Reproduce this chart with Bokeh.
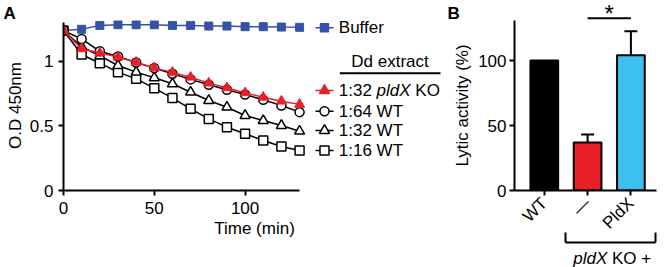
import math
from bokeh.plotting import figure
from bokeh.models import Range1d, FixedTicker, LinearAxis
from bokeh.layouts import row, column
from bokeh.embed import file_html
from bokeh.resources import INLINE
from bokeh.core.properties import value

FONT = "Liberation Sans"

# ---------------- Panel A data ----------------
time_min = [0, 10, 20, 30, 40, 50, 60, 70, 80, 90, 100, 110, 120, 130]
buffer_od = [1.235, 1.245, 1.275, 1.28, 1.28, 1.28, 1.275, 1.275, 1.27, 1.27, 1.265, 1.265, 1.262, 1.26]
ko_1_32 = [1.235, 1.094, 1.062, 1.03, 0.99, 0.947, 0.912, 0.875, 0.829, 0.793, 0.754, 0.72, 0.69, 0.665]
wt_1_64 = [1.235, 1.17, 1.075, 1.035, 0.988, 0.945, 0.902, 0.858, 0.816, 0.778, 0.741, 0.70, 0.656, 0.605]
wt_1_32 = [1.235, 1.11, 1.04, 0.965, 0.914, 0.87, 0.824, 0.759, 0.695, 0.643, 0.579, 0.54, 0.502, 0.458]
wt_1_16 = [1.235, 1.05, 0.983, 0.914, 0.862, 0.79, 0.714, 0.631, 0.553, 0.489, 0.438, 0.386, 0.34, 0.309]
a_xticks = [0, 50, 100]
a_yticks = [0, 0.5, 1]
a_ytick_labels = ["0", "0.5", "1"]
a_xlabel = "Time (min)"
a_ylabel = "O.D 450nm"

# ---------------- Panel B data ----------------
b_categories = ["WT", "\u2014", "PldX"]
b_values = [100, 37, 104]
b_errors = [0, 6, 18.5]
b_colors = ["#000000", "#E8202A", "#3EC0EE"]
b_yticks = [0, 50, 100]
b_ylabel = "Lytic activity (%)"

RED = "#E8202A"
BLUE = "#3552A6"


def style_axis(axis):
    axis.axis_line_width = 2
    axis.major_tick_line_width = 2
    axis.major_tick_out = 5
    axis.major_tick_in = 0
    axis.minor_tick_line_color = None
    axis.major_label_text_font = FONT
    axis.major_label_text_font_size = "17px"
    axis.major_label_text_color = "black"
    axis.axis_label_text_font = FONT
    axis.axis_label_text_font_size = "17px"
    axis.axis_label_text_font_style = "normal"
    axis.axis_label_text_color = "black"


def clean(p):
    p.outline_line_color = None
    p.background_fill_color = "white"
    p.border_fill_color = "white"
    for g in p.grid:
        g.visible = False


def strip(width, height, xr, yr):
    p = figure(width=width, height=height, output_backend="svg", toolbar_location=None, title=None,
               x_range=xr, y_range=yr, x_axis_location=None, y_axis_location=None, frame_align=False,
               min_border_left=0, min_border_right=0, min_border_top=0, min_border_bottom=0)
    clean(p)
    return p


def put_text(p, x, y, s, size="17px", style="normal", align="left"):
    # y is the visual middle of the text line
    p.text(x=[x], y=[y], text=[s], text_font=value(FONT), text_font_size=size,
           text_font_style=style, text_align=align, text_baseline="middle", text_color="black")


# ---------------- Panel A ----------------
A_X0, A_KX = 63.0, 1.816    # canvas px of t=0, px per minute
A_Y0, A_KY = 190.0, 129.5   # canvas px of OD=0, px per OD unit
def ax(px): return (px - A_X0) / A_KX
def ay(py): return (A_Y0 - py) / A_KY

A_W = 446
pA_top = strip(A_W, 20, Range1d(ax(0), ax(A_W)), Range1d(ay(20), ay(0)))
put_text(pA_top, ax(3), ay(13), "A", style="bold")

pA = figure(width=A_W, height=247, output_backend="svg", toolbar_location=None, title=None,
            x_range=Range1d(0, ax(445)), y_range=Range1d(0, ay(20)), frame_align=False,
            min_border_left=63, min_border_right=1, min_border_top=0, min_border_bottom=77)
clean(pA)
style_axis(pA.xaxis[0])
style_axis(pA.yaxis[0])
pA.xaxis.ticker = FixedTicker(ticks=a_xticks)
pA.xaxis.bounds = (0, 130)
pA.xaxis.axis_label = a_xlabel
pA.xaxis.major_label_standoff = 6
pA.xaxis.axis_label_standoff = 2
pA.yaxis.ticker = FixedTicker(ticks=a_yticks)
pA.yaxis.major_label_overrides = {t: l for t, l in zip(a_yticks, a_ytick_labels)}
pA.yaxis.bounds = (0, 1.3)
pA.yaxis.axis_label = a_ylabel
pA.yaxis.major_label_standoff = 5
pA.yaxis.axis_label_standoff = 2

pA.line(time_min, buffer_od, line_color=BLUE, line_width=1.5)
pA.scatter(time_min, buffer_od, marker="square", size=8, fill_color=BLUE, line_color=BLUE)
pA.line(time_min, wt_1_16, line_color="black", line_width=1.5)
pA.scatter(time_min, wt_1_16, marker="square", size=9, fill_color="white", line_color="black", line_width=1.5)
pA.line(time_min, wt_1_32, line_color="black", line_width=1.5)
pA.scatter(time_min, wt_1_32, marker="triangle", size=10, fill_color="white", line_color="black", line_width=1.5)
pA.line(time_min, wt_1_64, line_color="black", line_width=1.5)
pA.scatter(time_min, wt_1_64, marker="circle", size=9, fill_color="white", line_color="black", line_width=1.5)
pA.line(time_min, ko_1_32, line_color=RED, line_width=1.5)
pA.scatter(time_min, ko_1_32, marker="triangle", size=10, fill_color=RED, line_color=RED, line_width=1)

# legend (layout in canvas px)
LEG_L0, LEG_L1, LEG_M, LEG_T = 315, 333, 324, 338.3
rows = [
    (27.3, "square", BLUE, BLUE, 8),
    (90.0, "triangle", RED, RED, 10),
    (110.7, "circle", "white", "black", 9),
    (130.0, "triangle", "white", "black", 10),
    (150.0, "square", "white", "black", 9),
]
for cy, mk, fc, lc, sz in rows:
    pA.segment(x0=[ax(LEG_L0)], x1=[ax(LEG_L1)], y0=[ay(cy)], y1=[ay(cy)], line_color=lc, line_width=1.5)
    pA.scatter([ax(LEG_M)], [ay(cy)], marker=mk, size=sz, fill_color=fc, line_color=lc, line_width=1.5)

put_text(pA, ax(LEG_T), ay(27.3), "Buffer")
put_text(pA, ax(389.5), ay(61.2), "Dd extract", align="center")
pA.segment(x0=[ax(339.3)], x1=[ax(440)], y0=[ay(72.7)], y1=[ay(72.7)], line_color="black", line_width=2)
put_text(pA, ax(LEG_T), ay(90.0), "1:32")
put_text(pA, ax(LEG_T + 37.8), ay(90.0), "pldX", style="italic")
put_text(pA, ax(LEG_T + 37.8 + 34.0 + 4.7), ay(90.0), "KO")
put_text(pA, ax(LEG_T), ay(110.7), "1:64 WT")
put_text(pA, ax(LEG_T), ay(130.0), "1:32 WT")
put_text(pA, ax(LEG_T), ay(150.0), "1:16 WT")

# ---------------- Panel B ----------------
B_LEFT = A_W               # canvas x where the B column starts
B_X0, B_KX = 543.8, 43.3   # canvas px of category index 0, px per category
B_Y0, B_KY = 190.0, 1.3    # canvas px of 0 %, px per %
def bx(px): return (px - B_X0) / B_KX
def by(py): return (B_Y0 - py) / B_KY

B_W = 664 - B_LEFT
idx = list(range(len(b_categories)))
sig_a, sig_b = idx[1], idx[2]

pB_top = strip(B_W, 20, Range1d(bx(B_LEFT), bx(664)), Range1d(by(20), by(0)))
put_text(pB_top, bx(447), by(13.3), "B", style="bold")
pB_top.segment(x0=[sig_a], x1=[sig_b], y0=[by(17.7)], y1=[by(17.7)], line_color="black", line_width=2)
put_text(pB_top, (sig_a + sig_b) / 2, by(12.5), "*", size="24px", align="center")

pB = figure(width=B_W, height=225, output_backend="svg", toolbar_location=None, title=None,
            x_range=Range1d(bx(514), bx(656)), y_range=Range1d(0, by(20)), frame_align=False,
            min_border_left=514 - B_LEFT, min_border_right=664 - 656, min_border_top=0,
            min_border_bottom=55)
clean(pB)
style_axis(pB.xaxis[0])
style_axis(pB.yaxis[0])
pB.xaxis.ticker = FixedTicker(ticks=idx)
pB.xaxis.major_label_overrides = {i: c for i, c in zip(idx, b_categories)}
pB.xaxis.major_label_orientation = math.pi / 4
pB.xaxis.major_label_standoff = 5
pB.yaxis.ticker = FixedTicker(ticks=b_yticks)
pB.yaxis.axis_label = b_ylabel
pB.yaxis.major_label_standoff = 3
pB.yaxis.axis_label_standoff = 3

# bracket under the two pldX KO bars, drawn as a second bottom axis (tips = minor ticks)
br_l, br_r = bx(565), bx(655)
bracket = LinearAxis(ticker=FixedTicker(ticks=[], minor_ticks=[br_l, br_r]), bounds=(br_l, br_r))
bracket.axis_line_width = 2
bracket.major_tick_line_color = None
bracket.minor_tick_line_color = "black"
bracket.minor_tick_line_width = 2
bracket.minor_tick_in = 10
bracket.minor_tick_out = 0
bracket.major_label_standoff = 0
pB.add_layout(bracket, "below")

pB.vbar(x=idx, top=b_values, bottom=0, width=0.64, fill_color=b_colors,
        line_color="black", line_width=2)
ei = [i for i, e in zip(idx, b_errors) if e > 0]
etop = [v + e for v, e in zip(b_values, b_errors) if e > 0]
ebot = [v for v, e in zip(b_values, b_errors) if e > 0]
pB.segment(x0=ei, x1=ei, y0=ebot, y1=etop, line_color="black", line_width=2)
pB.segment(x0=[i - 0.15 for i in ei], x1=[i + 0.15 for i in ei], y0=etop, y1=etop,
           line_color="black", line_width=2)

pB_bot = strip(B_W, 22, Range1d(bx(B_LEFT), bx(664)), Range1d(by(267), by(245)))
put_text(pB_bot, bx(572.7), by(258.3), "pldX", style="italic")
put_text(pB_bot, bx(572.7 + 34.0 + 4.7), by(258.3), "KO +")

layout = row(column(pA_top, pA), column(pB_top, pB, pB_bot))
open("out.html", "w").write(file_html(layout, INLINE))
